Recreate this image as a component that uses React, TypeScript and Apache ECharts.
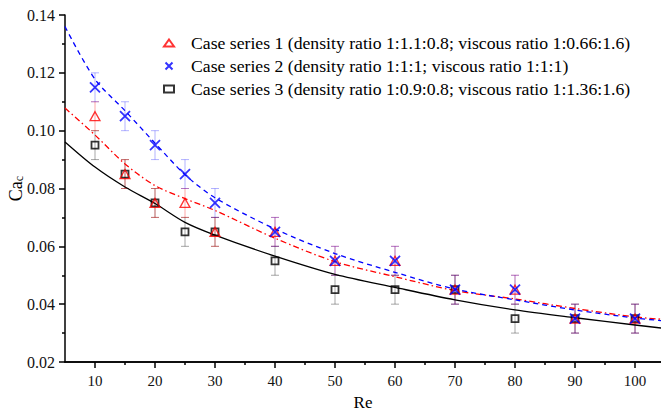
import React, { useEffect, useRef } from "react";
import * as echarts from "echarts";

// Measured points
const reValues = [10, 15, 20, 25, 30, 40, 50, 60, 70, 80, 90, 100];
const case1 = [0.105, 0.085, 0.075, 0.075, 0.065, 0.065, 0.055, 0.055, 0.045, 0.045, 0.035, 0.035];
const case2 = [0.115, 0.105, 0.095, 0.085, 0.075, 0.065, 0.055, 0.055, 0.045, 0.045, 0.035, 0.035];
const case3 = [0.095, 0.085, 0.075, 0.065, 0.065, 0.055, 0.045, 0.045, 0.045, 0.035, 0.035, 0.035];
const err1 = [0.005, 0.005, 0.005, 0.005, 0.005, 0.005, 0.005, 0.005, 0.005, 0.005, 0.005, 0.005];
const err2 = [0.005, 0.005, 0.005, 0.005, 0.005, 0.005, 0.005, 0.005, 0.005, 0.005, 0.005, 0.005];
const err3 = [0.005, 0.005, 0.005, 0.005, 0.005, 0.005, 0.005, 0.005, 0.005, 0.005, 0.005, 0.005];

// Fitted curves
const fitRe = [5, 10, 15, 20, 25, 30, 40, 50, 60, 70, 80, 90, 100, 105];
const fit1 = [0.1078, 0.0985, 0.0885, 0.081, 0.0765, 0.0724, 0.0628, 0.0547, 0.0495, 0.0447, 0.0418, 0.0385, 0.0356, 0.0347];
const fit2 = [0.136, 0.1178, 0.1069, 0.0957, 0.0848, 0.0768, 0.066, 0.0575, 0.051, 0.0452, 0.0415, 0.038, 0.0352, 0.0342];
const fit3 = [0.0961, 0.0874, 0.0805, 0.0748, 0.0683, 0.0639, 0.0566, 0.0503, 0.0458, 0.0415, 0.038, 0.0353, 0.0328, 0.0316];

const names = [
  "Case series 1 (density ratio 1:1.1:0.8; viscous ratio 1:0.66:1.6)",
  "Case series 2 (density ratio 1:1:1; viscous ratio 1:1:1)",
  "Case series 3 (density ratio 1:0.9:0.8; viscous ratio 1:1.36:1.6)",
];
const majorXTicks = [10, 20, 30, 40, 50, 60, 70, 80, 90, 100];
const minorXTicks = [15, 25, 35, 45, 55, 65, 75, 85, 95];

const FONT = "'Liberation Serif', 'DejaVu Serif', serif";

function errorSeries(vals: number[], errs: number[], color: string) {
  return {
    type: "custom",
    silent: true,
    z: 1,
    data: reValues.map((x, i) => [x, vals[i], vals[i] - errs[i], vals[i] + errs[i]]),
    encode: { x: 0, y: [2, 3] },
    renderItem: (params: any, api: any) => {
      const x = api.value(0);
      const lo = api.coord([x, api.value(2)]);
      const hi = api.coord([x, api.value(3)]);
      const w = 4;
      const style = { stroke: color, lineWidth: 1 };
      return {
        type: "group",
        children: [
          { type: "line", shape: { x1: lo[0], y1: lo[1], x2: hi[0], y2: hi[1] }, style },
          { type: "line", shape: { x1: lo[0] - w, y1: lo[1], x2: lo[0] + w, y2: lo[1] }, style },
          { type: "line", shape: { x1: hi[0] - w, y1: hi[1], x2: hi[0] + w, y2: hi[1] }, style },
        ],
      };
    },
  };
}

export default function App() {
  const ref = useRef<HTMLDivElement>(null);
  useEffect(() => {
    if (!ref.current) return;
    const chart = echarts.init(ref.current, null, { renderer: "svg" });
    const option: any = {
      animation: false,
      backgroundColor: "#ffffff",
      textStyle: { fontFamily: FONT },
      grid: { left: 65, top: 15, right: 0, bottom: 50, containLabel: false, outerBoundsMode: "none" },
      legend: {
        data: names,
        orient: "vertical",
        left: 158,
        top: 28,
        itemWidth: 10,
        itemHeight: 7,
        itemGap: 3,
        textStyle: { fontFamily: FONT, fontSize: 17.7, color: "#000", lineHeight: 20, padding: [0, 0, 0, 12] },
      },
      xAxis: [
        {
          type: "value",
          min: 5,
          max: 104.33,
          name: "Re",
          nameLocation: "middle",
          nameGap: 31,
          nameTextStyle: { fontFamily: FONT, fontSize: 17, lineHeight: 18, color: "#000" },
          axisLine: { show: true, onZero: false, lineStyle: { color: "#000", width: 1.5 } },
          axisTick: { show: true, customValues: majorXTicks, length: 6, lineStyle: { color: "#000", width: 1.5 } },
          axisLabel: { customValues: majorXTicks, margin: 11, fontFamily: FONT, fontSize: 15, color: "#111" },
          splitLine: { show: false },
        },
        {
          type: "value",
          min: 5,
          max: 104.33,
          position: "bottom",
          offset: 0,
          axisLine: { show: true, onZero: false, lineStyle: { color: "#000", width: 1.5 } },
          axisTick: { show: true, customValues: minorXTicks, length: 3, lineStyle: { color: "#000", width: 1.5 } },
          axisLabel: { show: false },
          splitLine: { show: false },
        },
      ],
      yAxis: {
        type: "value",
        min: 0.02,
        max: 0.14,
        interval: 0.02,
        name: "{a|Ca}{b|c}",
        nameLocation: "middle",
        nameGap: 40,
        nameMoveOverlap: false,
        nameTextStyle: {
          rich: {
            a: { fontFamily: FONT, fontSize: 18, color: "#000" },
            b: { fontFamily: FONT, fontSize: 12, color: "#000", padding: [7, 0, 0, 0] },
          },
        },
        axisLine: { show: true, onZero: false, lineStyle: { color: "#000", width: 1.5 } },
        axisTick: { show: true, length: 6, lineStyle: { color: "#000", width: 1.5 } },
        minorTick: { show: true, splitNumber: 2, length: 3, lineStyle: { color: "#000", width: 1.5 } },
        axisLabel: {
          margin: 10,
          fontFamily: FONT,
          fontSize: 16,
          color: "#111",
          formatter: (v: number) => v.toFixed(2),
        },
        splitLine: { show: false },
        minorSplitLine: { show: false },
      },
      series: [
        {
          type: "line",
          data: fitRe.map((x, i) => [x, fit3[i]]),
          smooth: 0.3,
          showSymbol: false,
          silent: true,
          lineStyle: { color: "#000", width: 1.3 },
          z: 2,
        },
        {
          type: "line",
          data: fitRe.map((x, i) => [x, fit1[i]]),
          smooth: 0.3,
          showSymbol: false,
          silent: true,
          lineStyle: { color: "#ff0000", width: 1.3, type: [6, 3, 1.5, 3] },
          z: 2,
        },
        {
          type: "line",
          data: fitRe.map((x, i) => [x, fit2[i]]),
          smooth: 0.3,
          showSymbol: false,
          silent: true,
          lineStyle: { color: "#0000ff", width: 1.3, type: [5, 4] },
          z: 2,
        },
        errorSeries(case3, err3, "rgba(0,0,0,0.35)"),
        errorSeries(case1, err1, "rgba(255,0,0,0.35)"),
        errorSeries(case2, err2, "rgba(0,0,255,0.3)"),
        {
          name: names[2],
          type: "scatter",
          data: reValues.map((x, i) => [x, case3[i]]),
          symbol: "rect",
          symbolSize: 7,
          itemStyle: { color: "rgba(255,255,255,0)", borderColor: "#000", borderWidth: 1.8 },
          z: 3,
        },
        {
          name: names[0],
          type: "scatter",
          data: reValues.map((x, i) => [x, case1[i]]),
          symbol: "triangle",
          symbolSize: [10, 9],
          itemStyle: { color: "rgba(255,255,255,0)", borderColor: "#ff0000", borderWidth: 1.3 },
          z: 4,
        },
        {
          name: names[1],
          type: "scatter",
          data: reValues.map((x, i) => [x, case2[i]]),
          symbol: "path://M0 0L10 10M10 0L0 10",
          symbolSize: 10,
          itemStyle: { color: "rgba(255,255,255,0)", borderColor: "#0000ff", borderWidth: 1.8 },
          z: 5,
        },
      ],
    };
    chart.setOption(option);
    return () => chart.dispose();
  }, []);
  return (
    <div
      ref={ref}
      style={{ position: "fixed", left: 0, top: 0, width: 661, height: 412, background: "#fff" }}
    />
  );
}
